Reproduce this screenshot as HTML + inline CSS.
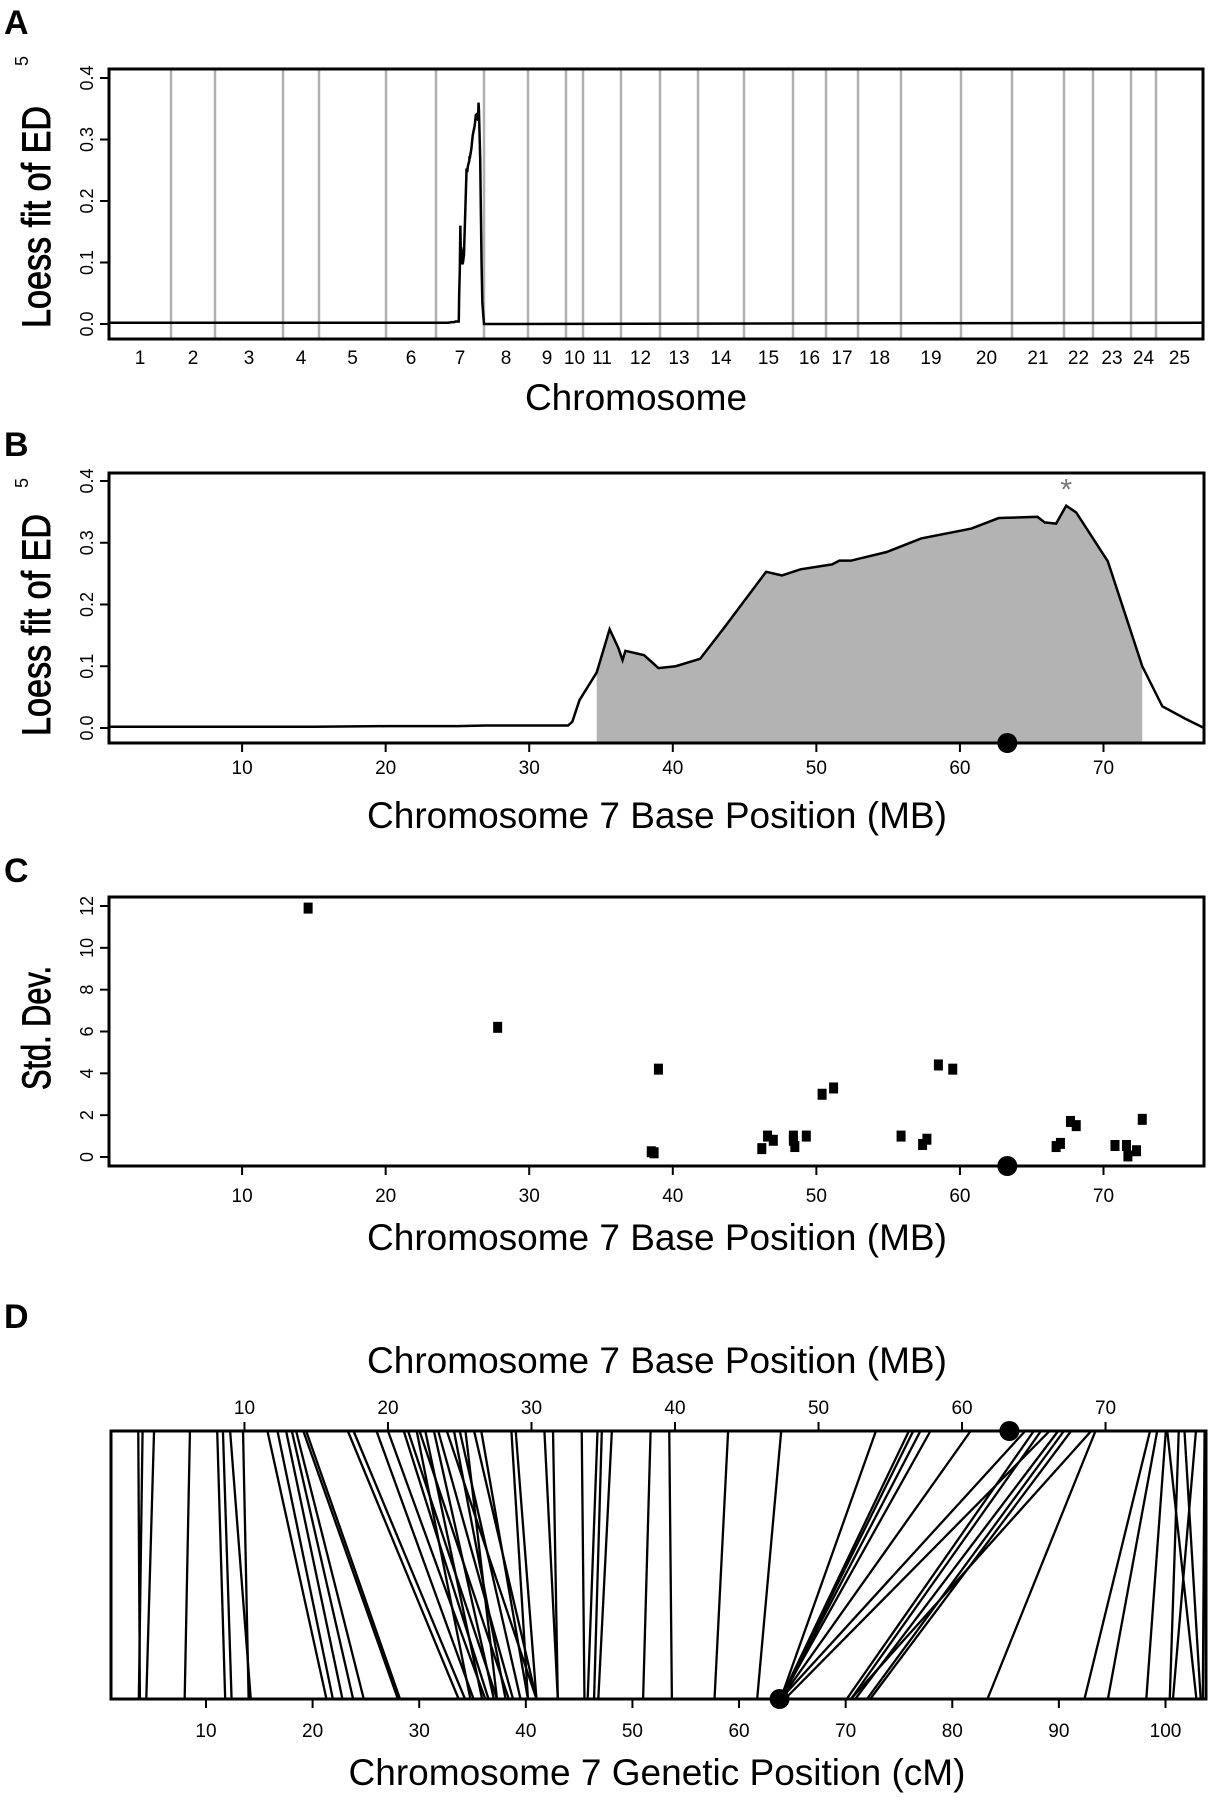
<!DOCTYPE html>
<html><head><meta charset="utf-8"><style>
html,body{margin:0;padding:0;background:#fff;}
svg{display:block;font-family:"Liberation Sans",Arial,sans-serif;}
</style></head><body>
<svg id="fig" width="1212" height="1800" viewBox="0 0 1212 1800" xmlns="http://www.w3.org/2000/svg"></svg>
<script>
// ---------- DATA ----------
const chromNames=["1","2","3","4","5","6","7","8","9","10","11","12","13","14","15","16","17","18","19","20","21","22","23","24","25"];
const chromLengths=[62,44,68,36,67,50,48,44,38,17,38,39,38,46,49,33,32,43,60,51,52,29,38,25,47];
const loessTicks=[0,0.1,0.2,0.3,0.4];
const baselineValue=0.002;
const bPos=[0.7,5,10,15,20,25,27,30,32.7,33.0,33.5,34.7,35.6,36.2,36.5,36.7,38.0,39.0,40.2,41.9,43.5,46.5,47.6,48.9,51.1,51.6,52.4,54.9,57.3,60.8,62.7,65.4,65.9,66.7,67.4,68.1,70.3,72.7,74.1,75.7,77.0];
const bVal=[0.002,0.002,0.002,0.002,0.003,0.003,0.004,0.004,0.004,0.01,0.045,0.09,0.16,0.13,0.11,0.125,0.118,0.097,0.1,0.112,0.16,0.253,0.247,0.257,0.265,0.271,0.271,0.285,0.307,0.323,0.34,0.342,0.333,0.331,0.36,0.349,0.27,0.1,0.035,0.015,0.0];
const shadeStart=34.7, shadeEnd=72.7;
const markerMB=63.3, peakMB=67.4, peakVal=0.36;
const mbTicks=[10,20,30,40,50,60,70];
const sdTicks=[0,2,4,6,8,10,12];
const cPos=[14.6,27.8,38.5,38.7,39.0,46.2,46.6,47.0,48.4,48.5,48.4,49.3,50.4,51.2,55.9,57.4,57.7,58.5,59.5,66.7,67.0,67.7,68.1,70.8,71.6,71.7,72.3,72.7];
const cVal=[11.9,6.2,0.25,0.2,4.2,0.4,1.0,0.8,0.8,0.5,1.0,1.0,3.0,3.3,1.0,0.6,0.85,4.4,4.2,0.5,0.65,1.7,1.5,0.55,0.55,0.05,0.3,1.8];
const cmTicks=[10,20,30,40,50,60,70,80,90,100];
const markerCM=63.8;
const linkMB=[2.6,2.9,3.7,6.2,8.1,8.5,9.0,9.9,11.6,12.3,12.9,13.3,13.6,14.1,14.3,17.2,17.6,19.2,20.0,21.1,21.4,22.0,22.2,22.6,23.2,23.5,24.1,24.6,25.0,25.4,26.0,26.5,28.6,28.9,30.9,31.5,33.5,34.6,34.9,35.6,38.3,39.6,43.7,47.4,54.0,56.3,56.6,57.1,57.8,60.6,64.4,65.0,65.5,66.1,66.7,67.1,67.6,69.0,69.3,73.1,73.6,74.2,75.1,75.5,76.3,76.9,74.3];
const linkCM=[3.8,3.7,4.4,8.0,11.8,12.4,14.2,14.0,21.3,21.9,22.8,23.8,24.8,28.0,28.2,33.7,34.3,35.1,36.2,36.5,37.3,34.8,38.4,35.9,37.0,38.8,41.0,38.1,39.5,37.3,41.0,40.2,40.2,41.0,43.0,43.0,45.5,45.8,46.4,46.8,51.0,53.7,57.7,61.7,63.9,63.9,63.9,63.9,63.9,63.9,63.9,70.1,70.5,64.3,70.9,72.0,72.3,70.5,83.3,92.4,94.6,98.2,100.4,103.3,100.7,103.5,102.9];

// ---------- HELPERS ----------
const NS="http://www.w3.org/2000/svg";
const svg=document.getElementById('fig');
function el(tag,attrs,parent){const e=document.createElementNS(NS,tag);for(const k in attrs)e.setAttribute(k,attrs[k]);(parent||svg).appendChild(e);return e;}
function txt(s,attrs,parent){const e=el('text',attrs,parent);e.textContent=s;return e;}
function lin(d0,d1,r0,r1){return v=>r0+(v-d0)*(r1-r0)/(d1-d0);}

function panelLabel(s,x,y){const t=txt(s,{x:x,y:y,'font-size':34,'font-weight':'bold'});

}
function box(x0,y0,x1,y1,name){const r=el('rect',{x:x0,y:y0,width:x1-x0,height:y1-y0,fill:'none',stroke:'#000','stroke-width':3});

}
function yAxis(ticks,ys,x0,fmt,name){
 const g=el('g',{});
 
 
 ticks.forEach(t=>{const y=ys(t);el('line',{x1:x0-9,y1:y,x2:x0,y2:y,stroke:'#000','stroke-width':2},g);
  const l=txt(fmt(t),{x:0,y:0,'font-size':18,'text-anchor':'middle',transform:`translate(${x0-16},${y}) rotate(-90)`},g);
  
  });
}
function xAxis(ticks,xs,y0,dir,labY,name){
 const g=el('g',{});
 
 
 ticks.forEach(t=>{const x=xs(t);el('line',{x1:x,y1:y0,x2:x,y2:y0+dir*9,stroke:'#000','stroke-width':2},g);
  const l=txt(String(t),{x:x,y:labY,'font-size':19,'text-anchor':'middle'},g);
  
  });
}
function yTitle(main,sup,cx,yStart,len,supY,name){
 const g=el('g',{});
 
 
 txt(main,{x:0,y:0,'font-size':40,textLength:len,lengthAdjust:'spacingAndGlyphs',stroke:'#000','stroke-width':0.9,transform:`translate(${cx+14},${yStart}) rotate(-90)`},g);
 if(sup)txt(sup,{x:0,y:0,'font-size':18,transform:`translate(${cx-8},${supY}) rotate(-90)`},g);
}
function xTitle(s,cx,y,name){const t=txt(s,{x:cx,y:y,'font-size':37,'text-anchor':'middle'});

}
function dot(x,y,name){const c=el('circle',{cx:x,cy:y,r:10,fill:'#000'});

}

// ---------- PANEL A ----------
panelLabel('A',4,34);
const A={x0:109,x1:1203,y0:69,y1:339};
const totalLen=chromLengths.reduce((a,b)=>a+b,0);
const gx=lin(0,totalLen,A.x0,A.x1);
const ayA=lin(0,0.4,324,78);
const cum=[0];chromLengths.forEach((l,i)=>cum.push(cum[i]+l));
const gridG=el('g',{});


for(let i=1;i<chromLengths.length;i++){el('line',{x1:gx(cum[i]),y1:A.y0,x2:gx(cum[i]),y2:A.y1,stroke:'#b0b0b0','stroke-width':2.5},gridG);}
const chrLabG=el('g',{});


chromNames.forEach((n,i)=>{const l=txt(n,{x:gx(cum[i]+chromLengths[i]/2),y:364,'font-size':19,'text-anchor':'middle'},chrLabG);
 
 });
const c7=6;
const chr7Offset=4;
let ptsA=[[gx(0),ayA(baselineValue)],[gx(cum[c7]),ayA(baselineValue)]];
bPos.forEach((p,i)=>ptsA.push([gx(cum[c7]+chr7Offset+p/77*(chromLengths[c7]-chr7Offset)),ayA(bVal[i])]));
ptsA.push([gx(totalLen),ayA(baselineValue)]);
const pA=el('polyline',{points:ptsA.map(p=>p.join(',')).join(' '),fill:'none',stroke:'#000','stroke-width':2.5});


box(A.x0,A.y0,A.x1,A.y1,'panel-a-plot-box');
yAxis(loessTicks,ayA,A.x0,t=>t.toFixed(1),'panel-a-y-axis');
yTitle('Loess fit of ED','5',36,328,222,66,'panel-a-y-title');
xTitle('Chromosome',636,410,'panel-a-x-title');

// ---------- PANEL B ----------
panelLabel('B',4,456);
const B={x0:109,x1:1204,y0:473,y1:743};
const bx=lin(0.73,77.0,B.x0,B.x1);
const by=lin(0,0.4,728,481);
let shade=[[bx(shadeStart),B.y1]];
bPos.forEach((p,i)=>{if(p>=shadeStart&&p<=shadeEnd)shade.push([bx(p),by(bVal[i])]);});
shade.push([bx(shadeEnd),B.y1]);
const sh=el('polygon',{points:shade.map(p=>p.join(',')).join(' '),fill:'#b3b3b3',stroke:'none'});


const pB=el('polyline',{points:bPos.map((p,i)=>bx(p)+','+by(bVal[i])).join(' '),fill:'none',stroke:'#000','stroke-width':2.5});


box(B.x0,B.y0,B.x1,B.y1,'panel-b-plot-box');
const ast=txt('*',{x:bx(peakMB),y:by(peakVal)-6,'font-size':30,fill:'#777','text-anchor':'middle'});


yAxis(loessTicks,by,B.x0,t=>t.toFixed(1),'panel-b-y-axis');
xAxis(mbTicks,bx,B.y1,1,774,'panel-b-x-axis');
dot(bx(markerMB),B.y1,'panel-b-marker-dot');
yTitle('Loess fit of ED','5',36,736,222,488,'panel-b-y-title');
xTitle('Chromosome 7 Base Position (MB)',657,828,'panel-b-x-title');

// ---------- PANEL C ----------
panelLabel('C',4,882);
const C={x0:109,x1:1204,y0:897,y1:1166};
const cx=lin(0.73,77.0,C.x0,C.x1);
const cy=lin(0,12,1157,906);
const ptsG=el('g',{});


cPos.forEach((p,i)=>{const r=el('rect',{x:cx(p)-4.5,y:cy(cVal[i])-5.5,width:9,height:11,fill:'#000'},ptsG);
 
 });
box(C.x0,C.y0,C.x1,C.y1,'panel-c-plot-box');
yAxis(sdTicks,cy,C.x0,t=>String(t),'panel-c-y-axis');
xAxis(mbTicks,cx,C.y1,1,1202,'panel-c-x-axis');
dot(cx(markerMB),C.y1,'panel-c-marker-dot');
yTitle('Std. Dev.',null,36,1090,124,0,'panel-c-y-title');
xTitle('Chromosome 7 Base Position (MB)',657,1250,'panel-c-x-title');

// ---------- PANEL D ----------
panelLabel('D',4,1328);
const D={x0:111,x1:1206,y0:1431,y1:1699};
const dxMB=lin(0.7,77.0,D.x0,D.x1);
const dxCM=lin(1.09,103.8,D.x0,D.x1);
const linkG=el('g',{});


linkMB.forEach((m,i)=>{const l=el('line',{x1:dxMB(m),y1:D.y0,x2:dxCM(linkCM[i]),y2:D.y1,stroke:'#000','stroke-width':2.3},linkG);
 
 });
box(D.x0,D.y0,D.x1,D.y1,'panel-d-plot-box');
xAxis(mbTicks,dxMB,D.y0,-1,1414,'panel-d-top-axis');
xAxis(cmTicks,dxCM,D.y1,1,1737,'panel-d-bottom-axis');
dot(dxMB(markerMB),D.y0,'panel-d-top-marker-dot');
dot(dxCM(markerCM),D.y1,'panel-d-bottom-marker-dot');
xTitle('Chromosome 7 Base Position (MB)',657,1373,'panel-d-top-title');
xTitle('Chromosome 7 Genetic Position (cM)',657,1785,'panel-d-bottom-title');
</script>
</body></html>
